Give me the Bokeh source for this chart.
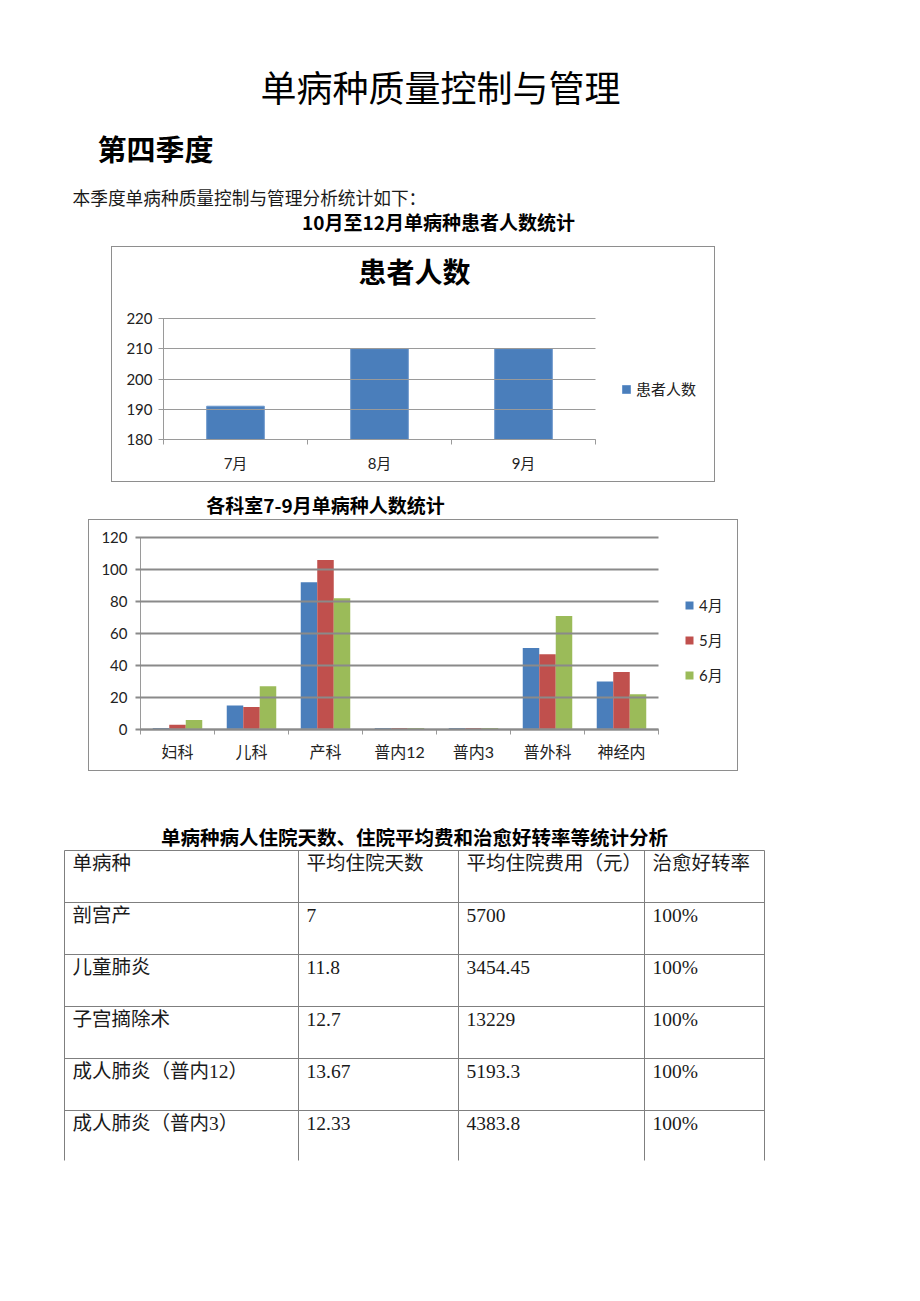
from bokeh.plotting import figure
from bokeh.layouts import column, row
from bokeh.models import Range1d, FixedTicker, Legend, LegendItem, Spacer, ColumnDataSource
from bokeh.embed import file_html
from bokeh.resources import INLINE
from bokeh.core.properties import value

# ---------------- data ----------------
page_title = "单病种质量控制与管理"
section_title = "第四季度"
intro_text = "本季度单病种质量控制与管理分析统计如下："

chart1_caption = "10月至12月单病种患者人数统计"
chart1_title = "患者人数"
months1 = ["7月", "8月", "9月"]
patients = [191, 210, 210]
y1_ticks = [180, 190, 200, 210, 220]

chart2_caption = "各科室7-9月单病种人数统计"
depts = ["妇科", "儿科", "产科", "普内12", "普内3", "普外科", "神经内"]
series_names = ["4月", "5月", "6月"]
apr_counts = [1, 15, 92, 1, 1, 51, 30]
may_counts = [3, 14, 106, 1, 1, 47, 36]
jun_counts = [6, 27, 82, 1, 1, 71, 22]
y2_ticks = [0, 20, 40, 60, 80, 100, 120]

table_caption = "单病种病人住院天数、住院平均费和治愈好转率等统计分析"
table_headers = ["单病种", "平均住院天数", "平均住院费用（元）", "治愈好转率"]
diseases = ["剖宫产", "儿童肺炎", "子宫摘除术", "成人肺炎（普内12）", "成人肺炎（普内3）"]
avg_days = ["7", "11.8", "12.7", "13.67", "12.33"]
avg_cost = ["5700", "3454.45", "13229", "5193.3", "4383.8"]
cure_rate = ["100%", "100%", "100%", "100%", "100%"]

# ---------------- styles ----------------
W = 920
CJK = "Noto Sans CJK SC"
AXF = "Lato, Noto Sans CJK SC"
SERIF = "Liberation Serif, Noto Sans CJK SC"
BLUE, RED, GREEN = "#4a7ebb", "#c0504d", "#9bbb59"


def box_style(w, h):
    return {"outline": "1px solid #8e8e8e", "outline-offset": "-1px",
            "width": f"{w}px", "height": f"{h}px",
            "max-width": f"{w}px", "max-height": f"{h}px",
            "background-color": "white"}


def text_fig(top, bottom):
    p = figure(width=W, height=bottom - top, x_range=Range1d(0, W),
               y_range=Range1d(bottom, top), output_backend="svg",
               toolbar_location=None, min_border=0,
               x_axis_type=None, y_axis_type=None)
    p.grid.visible = False
    p.outline_line_color = None
    p.background_fill_color = "white"
    return p


def ext_range(lo, hi, plot_px, frame_px):
    # the frame also holds the legend / title area beyond the plotted zone
    return Range1d(lo, lo + (hi - lo) * frame_px / plot_px)


def chart(width, height, n_cat, y_ticks, plot_w, plot_h, border_left, border_bottom):
    frame_w = width - border_left - 1
    frame_h = height - border_bottom - 1
    p = figure(width=width, height=height,
               x_range=ext_range(0, 2 * n_cat, plot_w, frame_w),
               y_range=ext_range(y_ticks[0], y_ticks[-1], plot_h, frame_h),
               output_backend="svg", toolbar_location=None,
               min_border_left=border_left, min_border_right=1,
               min_border_top=1, min_border_bottom=border_bottom)
    p.styles = box_style(width, height)
    p.border_fill_alpha = 0
    p.background_fill_alpha = 0
    p.outline_line_color = None
    p.grid.visible = False
    # y axis: tick marks run across the plotted zone as horizontal gridlines
    p.yaxis.ticker = FixedTicker(ticks=y_ticks)
    p.yaxis.bounds = (y_ticks[0], y_ticks[-1])
    p.yaxis.major_tick_out = 5
    p.yaxis.major_tick_in = plot_w
    p.yaxis.minor_tick_line_color = None
    p.yaxis.axis_line_color = "#9a9a9a"
    p.yaxis.major_label_text_font = AXF
    p.yaxis.major_label_text_font_size = "15px"
    p.yaxis.major_label_text_color = "#222222"
    p.xaxis.ticker = FixedTicker(ticks=[2 * i + 1 for i in range(n_cat)],
                                 minor_ticks=[2 * i for i in range(n_cat + 1)])
    p.xaxis.bounds = (0, 2 * n_cat)
    p.xaxis.major_tick_out = 0
    p.xaxis.major_tick_in = 0
    p.xaxis.minor_tick_out = 5
    p.xaxis.minor_tick_in = 0
    p.xaxis.axis_line_color = "#9a9a9a"
    p.xaxis.minor_tick_line_color = "#9a9a9a"
    p.xaxis.major_label_text_font = AXF
    p.xaxis.major_label_text_color = "#222222"
    return p


# ---------------- header ----------------
head = text_fig(0, 246)
head.text(x=[440], y=[85], text=[page_title], text_font=value(CJK),
          text_font_size="36px", text_align="center", text_baseline="middle",
          text_color="#000000")
head.text(x=[97], y=[147], text=[section_title], text_font=value(CJK),
          text_font_size="29px", text_font_style="bold", text_align="left",
          text_baseline="middle", text_color="#000000")
head.text(x=[72], y=[196], text=[intro_text], text_font=value(CJK),
          text_font_size="17.7px", text_align="left", text_baseline="middle",
          text_color="#1a1a1a")
head.text(x=[438], y=[221], text=[chart1_caption], text_font=value(CJK),
          text_font_size="19px", text_font_style="bold", text_align="center",
          text_baseline="middle", text_color="#000000")

# ---------------- chart 1 ----------------
n1 = len(months1)
P1W, P1H = 432, 121
c1 = chart(604, 236, n1, y1_ticks, P1W, P1H, 52, 43)
src1 = ColumnDataSource(dict(x=[2 * i + 1 for i in range(n1)], top=patients))
r1 = c1.vbar(x="x", top="top", bottom=y1_ticks[0], width=0.8, source=src1,
             fill_color=BLUE, line_color="#6b97cc", line_width=1)
c1.xaxis.major_label_overrides = {2 * i + 1: m for i, m in enumerate(months1)}
c1.xaxis.major_label_text_font_size = "15px"
c1.xaxis.major_label_standoff = 9
c1.yaxis.major_label_standoff = 6
c1.yaxis.major_tick_line_color = "#9a9a9a"
c1.yaxis.major_tick_line_width = 1
# chart title, placed 251 px right of the y axis and 169 px above the x axis
c1.text(x=[251 * 2 * n1 / P1W], y=[y1_ticks[0] + 169 * (y1_ticks[-1] - y1_ticks[0]) / P1H],
        text=[chart1_title], text_font=value(CJK), text_font_size="28px",
        text_font_style="bold", text_align="center", text_baseline="middle",
        text_color="#000000")
leg1 = Legend(items=[LegendItem(label=chart1_title, renderers=[r1])],
              location=(458, 40), padding=0, margin=0, border_line_color=None,
              background_fill_alpha=0, glyph_width=10, glyph_height=10,
              label_height=18, label_standoff=5, label_text_font=CJK,
              label_text_font_size="15px", label_text_color="#222222")
c1.add_layout(leg1)

# ---------------- middle caption ----------------
mid = text_fig(482, 519)
mid.text(x=[325], y=[504], text=[chart2_caption], text_font=value(CJK),
         text_font_size="19px", text_font_style="bold", text_align="center",
         text_baseline="middle", text_color="#000000")

# ---------------- chart 2 ----------------
n2 = len(depts)
P2W, P2H = 518, 192
c2 = chart(650, 252, n2, y2_ticks, P2W, P2H, 52, 42)
bw = 0.446
renderers2 = []
for k, (vals, col) in enumerate(zip([apr_counts, may_counts, jun_counts],
                                    [BLUE, RED, GREEN])):
    s = ColumnDataSource(dict(x=[2 * i + 1 + (k - 1) * bw for i in range(n2)],
                              top=vals))
    renderers2.append(c2.vbar(x="x", top="top", bottom=0, width=bw, source=s,
                              fill_color=col, line_color=None))
c2.xaxis.major_label_overrides = {2 * i + 1: d for i, d in enumerate(depts)}
c2.xaxis.major_label_text_font_size = "16px"
c2.xaxis.major_label_standoff = 7
c2.xaxis.axis_line_width = 2
c2.yaxis.major_label_standoff = 8
c2.yaxis.major_tick_line_color = "#8a8a8a"
c2.yaxis.major_tick_line_width = 2
leg2 = Legend(items=[LegendItem(label=nm, renderers=[r])
                     for nm, r in zip(series_names, renderers2)],
              location=(544, 44), padding=0, margin=0, border_line_color=None,
              background_fill_alpha=0, glyph_width=10, glyph_height=10,
              label_height=18, spacing=14, label_standoff=5,
              label_text_font=AXF, label_text_font_size="15px",
              label_text_color="#222222")
c2.add_layout(leg2)

# ---------------- table ----------------
bot = text_fig(771, 1301)
bot.text(x=[414], y=[836], text=[table_caption], text_font=value(CJK),
         text_font_size="19.5px", text_font_style="bold", text_align="center",
         text_baseline="middle", text_color="#000000")

col_x = [64, 298, 458, 644, 764]
row_top = 850
row_h = 52
table_bottom = 1160
rows = [table_headers] + [list(r) for r in zip(diseases, avg_days, avg_cost, cure_rate)]
n_rows = len(rows)

h_xs = [[col_x[0], col_x[-1]] for _ in range(n_rows)]
h_ys = [[row_top + r * row_h] * 2 for r in range(n_rows)]
v_xs = [[cx, cx] for cx in col_x]
v_ys = [[row_top, table_bottom] for _ in col_x]
bot.multi_line(xs=h_xs + v_xs, ys=h_ys + v_ys, line_color="#7f7f7f", line_width=1)

tx, ty, tt = [], [], []
for r, rvals in enumerate(rows):
    for c, cell in enumerate(rvals):
        tx.append(col_x[c] + 8)
        ty.append(row_top + r * row_h + 13)
        tt.append(cell)
bot.text(x=tx, y=ty, text=tt, text_font=value(SERIF), text_font_size="19.5px",
         text_align="left", text_baseline="middle", text_color="#1a1a1a")

layout = column(
    head,
    row(Spacer(width=111, height=236), c1, Spacer(width=W - 111 - 604, height=236)),
    mid,
    row(Spacer(width=88, height=252), c2, Spacer(width=W - 88 - 650, height=252)),
    bot,
    spacing=0,
)

open("out.html", "w").write(file_html(layout, INLINE))
